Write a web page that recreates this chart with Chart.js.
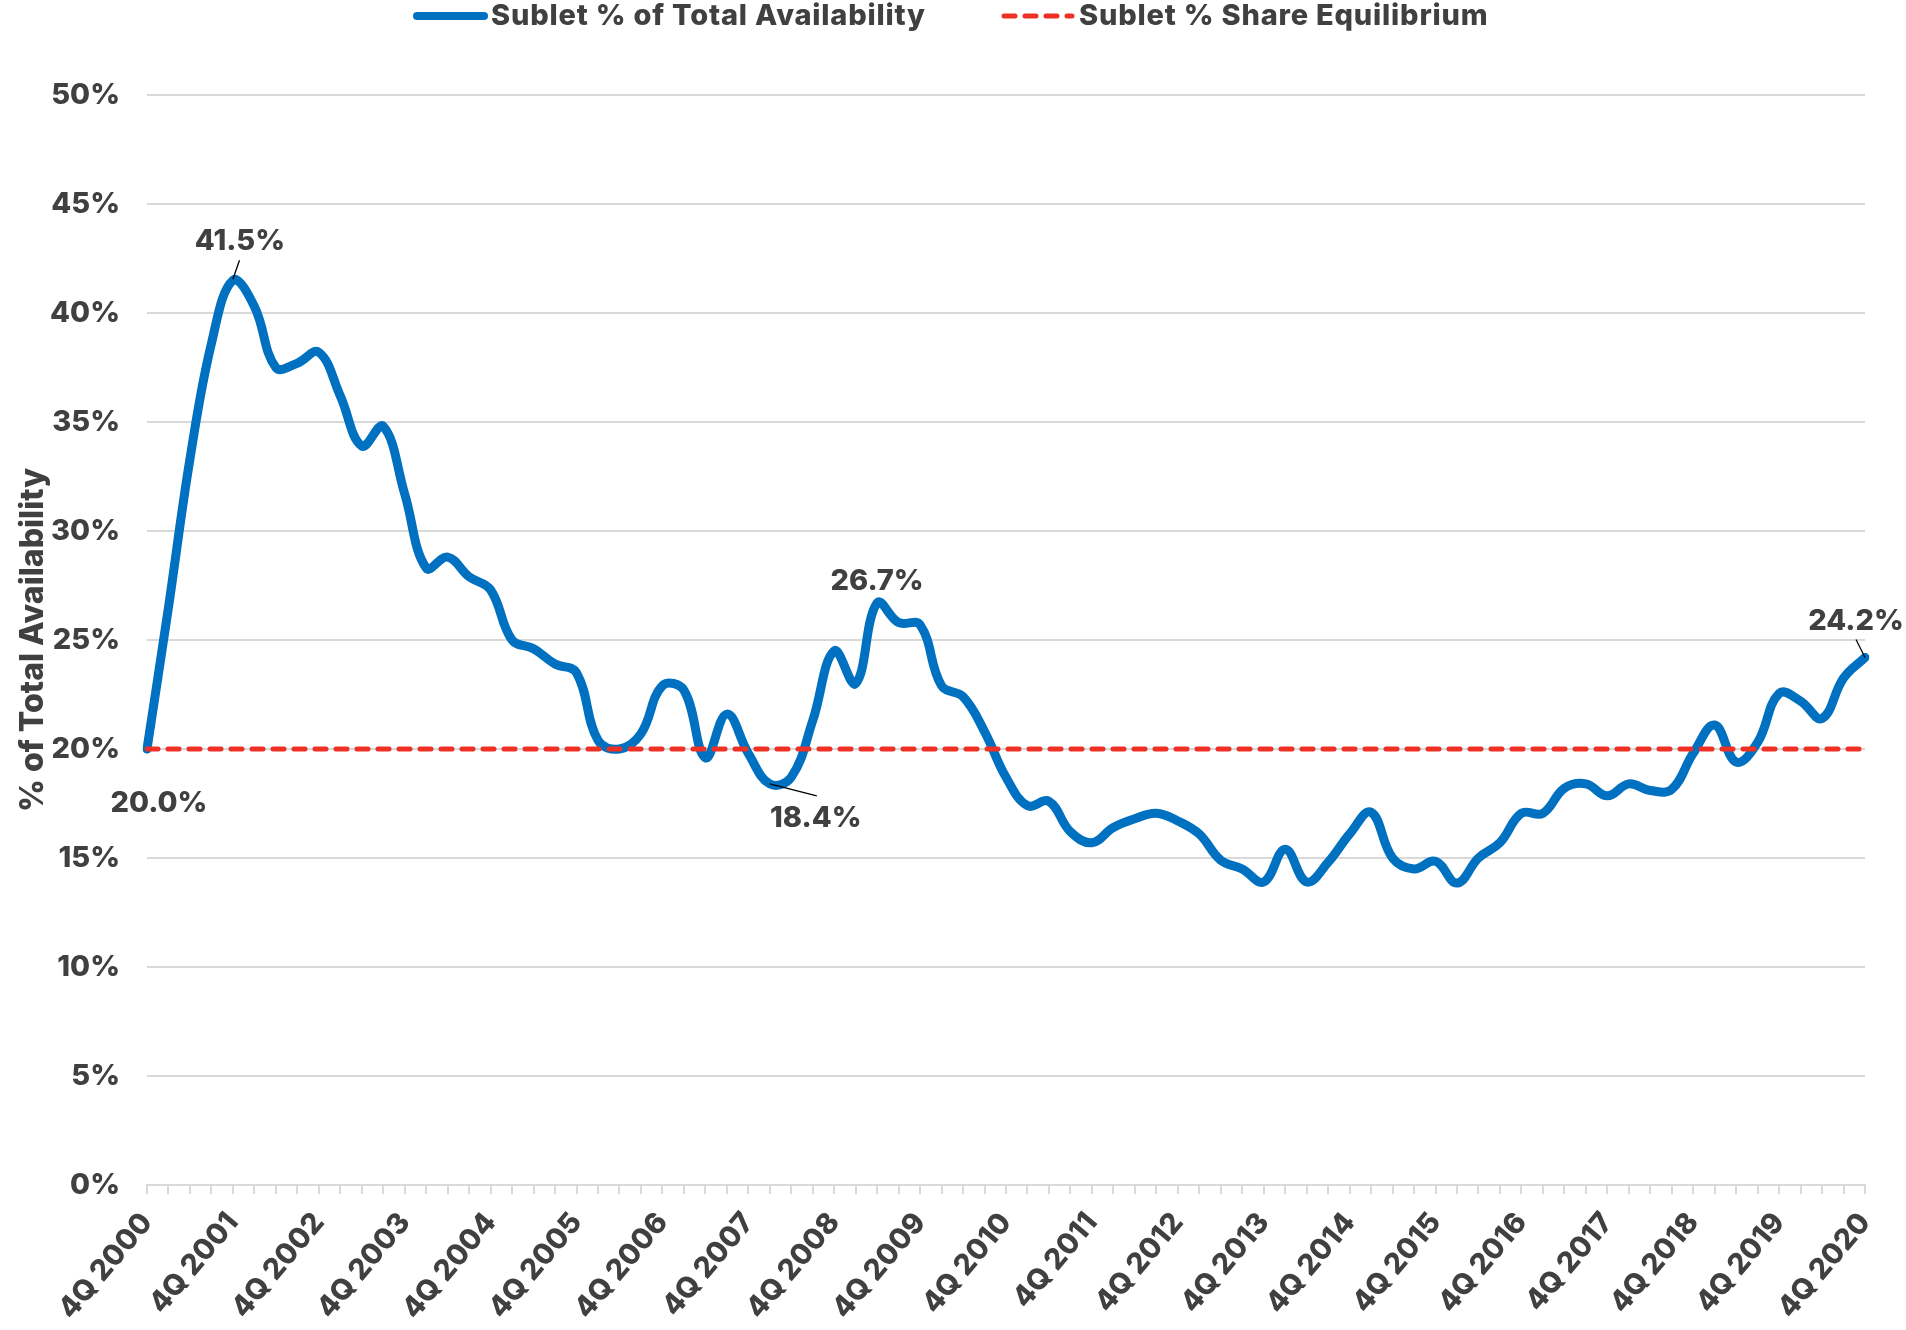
<!DOCTYPE html>
<html>
<head>
<meta charset="utf-8">
<script src="https://cdn.jsdelivr.net/npm/chart.js@4/dist/chart.umd.min.js"></script>
<style>
html,body{margin:0;padding:0;background:#ffffff;}
canvas{display:block;}
</style>
</head>
<body>
<canvas id="c" width="1906" height="1330"></canvas>
<script>
// ---------- DATA ----------
const quarters = [
 '4Q 2000',
 '1Q 2001','2Q 2001','3Q 2001','4Q 2001',
 '1Q 2002','2Q 2002','3Q 2002','4Q 2002',
 '1Q 2003','2Q 2003','3Q 2003','4Q 2003',
 '1Q 2004','2Q 2004','3Q 2004','4Q 2004',
 '1Q 2005','2Q 2005','3Q 2005','4Q 2005',
 '1Q 2006','2Q 2006','3Q 2006','4Q 2006',
 '1Q 2007','2Q 2007','3Q 2007','4Q 2007',
 '1Q 2008','2Q 2008','3Q 2008','4Q 2008',
 '1Q 2009','2Q 2009','3Q 2009','4Q 2009',
 '1Q 2010','2Q 2010','3Q 2010','4Q 2010',
 '1Q 2011','2Q 2011','3Q 2011','4Q 2011',
 '1Q 2012','2Q 2012','3Q 2012','4Q 2012',
 '1Q 2013','2Q 2013','3Q 2013','4Q 2013',
 '1Q 2014','2Q 2014','3Q 2014','4Q 2014',
 '1Q 2015','2Q 2015','3Q 2015','4Q 2015',
 '1Q 2016','2Q 2016','3Q 2016','4Q 2016',
 '1Q 2017','2Q 2017','3Q 2017','4Q 2017',
 '1Q 2018','2Q 2018','3Q 2018','4Q 2018',
 '1Q 2019','2Q 2019','3Q 2019','4Q 2019',
 '1Q 2020','2Q 2020','3Q 2020','4Q 2020'
];
const subletShare = [
 20.0,
 26.5, 33.3, 38.6, 41.5,
 40.3, 37.5, 37.7, 38.2,
 36.2, 33.9, 34.8, 31.7,
 28.3, 28.8, 27.9, 27.3,
 25.0, 24.6, 23.9, 23.5,
 20.4, 20.0, 20.7, 22.9,
 22.7, 19.6, 21.6, 19.8,
 18.4, 18.7, 21.3, 24.5,
 23.0, 26.7, 25.8, 25.7,
 22.9, 22.4, 20.8, 18.7,
 17.4, 17.6, 16.2, 15.7,
 16.4, 16.8, 17.05, 16.7,
 16.1, 14.9, 14.5, 13.9,
 15.4, 13.9, 14.8, 16.1,
 17.1, 15.0, 14.5, 14.85,
 13.85, 15.0, 15.7, 17.05,
 17.05, 18.2, 18.4, 17.85,
 18.4, 18.1, 18.15, 19.8,
 21.1, 19.4, 20.3, 22.55,
 22.2, 21.4, 23.25, 24.2
];
const equilibriumValue = 20.0;
const seriesNames = ['Sublet % of Total Availability', 'Sublet % Share Equilibrium'];
const yAxisTitle = '% of Total Availability';
const calloutIndexes = [0, 4, 29, 34, 80];

// ---------- STYLE ----------
const TEXT = '#404040';
const BLUE = '#0070C0';
const RED = '#EE3124';
const GRID = '#D9D9D9';
const FONT = 'Inter';
const W = '800';
Chart.defaults.font.family = FONT;
Chart.defaults.font.weight = W;
Chart.defaults.color = TEXT;

// callout placement (offsets from the data point, in px)
const calloutStyle = {
  0:  {dx: 12, dy: 54},
  4:  {dx: 7,  dy: -39, leader: [0, -1, 6.6, -20]},
  29: {dx: 46, dy: 34,  leader: [0, 0, 47, 12]},
  34: {dx: 0,  dy: -22},
  80: {dx: -9, dy: -36, leader: [0, 0, -9, -18]}
};

const calloutPlugin = {
  id: 'callouts',
  afterDatasetsDraw(chart) {
    const meta = chart.getDatasetMeta(0);
    const ctx = chart.ctx;
    ctx.save();
    ctx.font = W + ' 29px ' + FONT;
    ctx.fillStyle = TEXT;
    ctx.textAlign = 'center';
    ctx.textBaseline = 'middle';
    calloutIndexes.forEach(i => {
      const p = meta.data[i];
      const s = calloutStyle[i];
      if (s.leader) {
        ctx.beginPath();
        ctx.moveTo(p.x + s.leader[0], p.y + s.leader[1]);
        ctx.lineTo(p.x + s.leader[2], p.y + s.leader[3]);
        ctx.strokeStyle = '#000000';
        ctx.lineWidth = 1.3;
        ctx.stroke();
      }
      ctx.fillText(subletShare[i].toFixed(1) + '%', p.x + s.dx, p.y + s.dy);
    });
    ctx.restore();
  }
};

const legendPlugin = {
  id: 'topLegend',
  afterDraw(chart) {
    const ctx = chart.ctx;
    ctx.save();
    ctx.font = W + ' 29px ' + FONT;
    if ('letterSpacing' in ctx) ctx.letterSpacing = '0.8px';
    ctx.fillStyle = TEXT;
    ctx.textAlign = 'left';
    ctx.textBaseline = 'middle';
    const y = 16;
    // item 1
    ctx.beginPath();
    ctx.moveTo(417, y); ctx.lineTo(484, y);
    ctx.strokeStyle = BLUE; ctx.lineWidth = 8; ctx.lineCap = 'round';
    ctx.stroke();
    ctx.fillText(seriesNames[0], 491, y);
    // item 2
    ctx.beginPath();
    ctx.setLineDash([11, 10]);
    ctx.moveTo(1004, y); ctx.lineTo(1072, y);
    ctx.strokeStyle = RED; ctx.lineWidth = 5; ctx.lineCap = 'round';
    ctx.stroke();
    ctx.setLineDash([]);
    ctx.fillText(seriesNames[1], 1079, y);
    if ('letterSpacing' in ctx) ctx.letterSpacing = '0px';
    ctx.restore();
  }
};

new Chart(document.getElementById('c'), {
  type: 'line',
  data: {
    labels: quarters,
    datasets: [
      {
        label: seriesNames[0],
        data: subletShare,
        borderColor: BLUE,
        backgroundColor: BLUE,
        borderWidth: 9,
        pointRadius: 0,
        tension: 0.4,
        borderCapStyle: 'round',
        borderJoinStyle: 'round',
        order: 1
      },
      {
        label: seriesNames[1],
        data: [{x: quarters[0], y: equilibriumValue}, {x: quarters[quarters.length - 1], y: equilibriumValue}],
        borderColor: RED,
        backgroundColor: RED,
        borderWidth: 5,
        borderDash: [11, 10],
        borderCapStyle: 'round',
        pointRadius: 0,
        tension: 0,
        order: 0
      }
    ]
  },
  options: {
    responsive: false,
    animation: false,
    devicePixelRatio: 1,
    layout: {padding: {top: 95, right: 41, left: 0, bottom: 0}},
    plugins: {
      legend: {display: false},
      tooltip: {enabled: false}
    },
    scales: {
      x: {
        type: 'category',
        offset: false,
        grid: {drawOnChartArea: false, drawTicks: true, tickLength: 9, color: GRID, lineWidth: 2},
        border: {display: true, color: GRID, width: 2},
        ticks: {
          autoSkip: false,
          maxRotation: 50,
          minRotation: 50,
          padding: 12,
          color: TEXT,
          font: {size: 29, weight: W},
          callback: function(val, idx) { return idx % 4 === 0 ? quarters[idx] : ''; }
        },
        afterFit(scale) { scale.height = 145; }
      },
      y: {
        min: 0,
        max: 50,
        grid: {color: GRID, lineWidth: 2, drawTicks: false},
        border: {display: false},
        ticks: {
          stepSize: 5,
          padding: 27,
          color: TEXT,
          font: {size: 29, weight: W},
          callback: v => v + '%'
        },
        title: {
          display: true,
          text: yAxisTitle,
          color: TEXT,
          font: {size: 32, weight: W},
          padding: {top: 14, bottom: 0}
        },
        afterFit(scale) { scale.width = 147; }
      }
    }
  },
  plugins: [calloutPlugin, legendPlugin]
});
</script>
</body>
</html>
